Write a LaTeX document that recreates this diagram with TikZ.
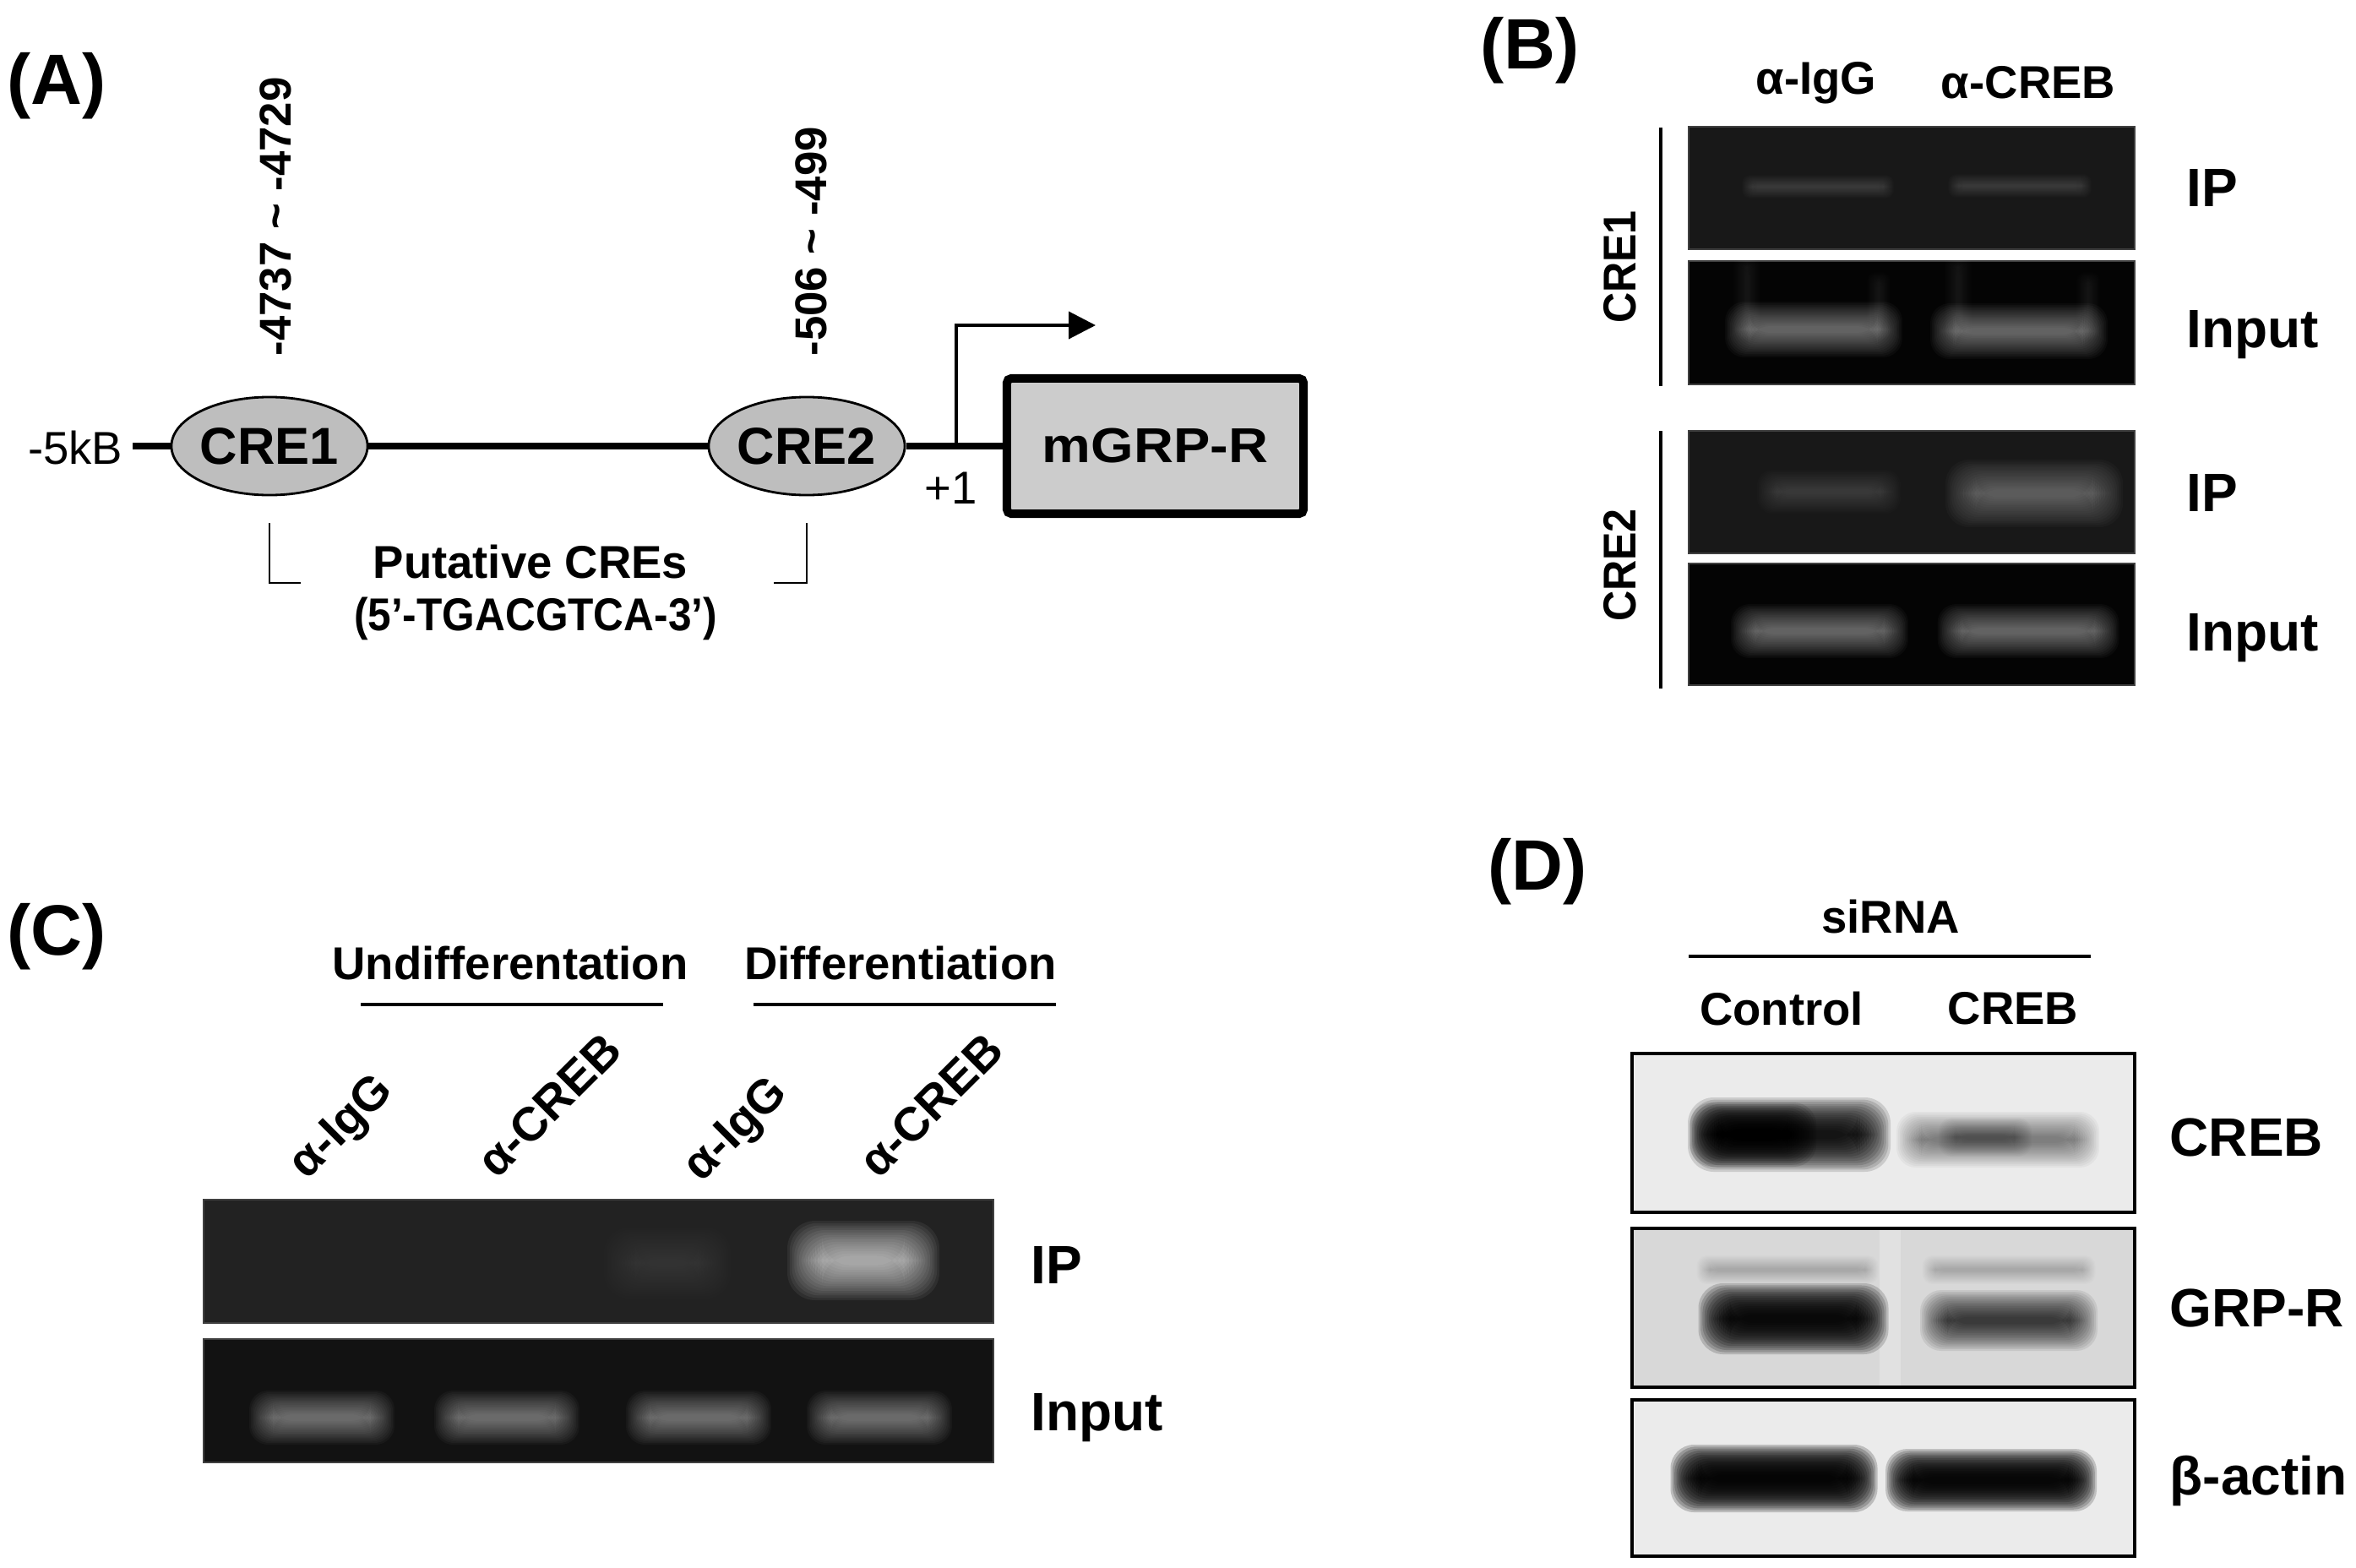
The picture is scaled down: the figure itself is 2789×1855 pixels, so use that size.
\documentclass[tikz,border=0pt]{standalone}
\usepackage{fontspec}
\setmainfont{Liberation Sans}
\usepackage{graphicx}
\usetikzlibrary{arrows.meta,shapes.geometric}
\definecolor{creg}{HTML}{BEBEBE}
\definecolor{geneg}{HTML}{CCCCCC}
\definecolor{gelIP}{HTML}{181818}
\definecolor{gelIn}{HTML}{040404}
\definecolor{gelCIP}{HTML}{222222}
\definecolor{gelCIn}{HTML}{121212}
\definecolor{blotbg}{HTML}{EBEBEB}
\definecolor{blotbgB}{HTML}{D8D8D8}
% soft band: centre x, centre y, width, height, colour, centre opacity
\newcommand{\gelband}[6]{%
  \pgfmathsetmacro{\gbw}{#3/2}%
  \pgfmathsetmacro{\gbh}{#4/2}%
  \pgfmathsetmacro{\gbs}{min(#3,#4)/34}%
  \pgfmathsetmacro{\gbo}{1-(1-#6)^(0.0625)}%
  \pgfmathsetlengthmacro{\gbrc}{min(#3,#4)*0.0035cm}%
  \foreach \k in {0,...,15}{%
    \fill[#5, fill opacity=\gbo, rounded corners=\gbrc]
      ({#1-\gbw+\k*\gbs},{#2-\gbh+\k*\gbs}) rectangle ({#1+\gbw-\k*\gbs},{#2+\gbh-\k*\gbs});
  }}
\tikzset{
  panel/.style={font=\bfseries\fontsize{24}{28}\selectfont, inner sep=0, anchor=west},
  lanelbl/.style={font=\bfseries\fontsize{15.5}{18}\selectfont, inner sep=0},
  rotlbl/.style={font=\bfseries\fontsize{16}{19}\selectfont, inner sep=0, rotate=45},
  sidelbl/.style={font=\bfseries\fontsize{18.2}{22}\selectfont, inner sep=0, anchor=base west},
  numlbl/.style={font=\bfseries\fontsize{15}{18}\selectfont, inner sep=0, rotate=90, anchor=west},
  plainlbl/.style={font=\fontsize{15.5}{18}\selectfont, inner sep=0},
  crenode/.style={ellipse, draw, line width=0.8pt, fill=creg, minimum width=2.26cm,
    minimum height=1.16cm, inner sep=0, font=\bfseries\fontsize{17.5}{20}\selectfont},
  genebox/.style={draw, line width=2.85pt, fill=geneg, minimum width=3.51cm,
    minimum height=1.6cm, inner sep=0, rounded corners=1.5pt,
    font=\bfseries\fontsize{16.5}{19}\selectfont},
  dna/.style={line width=2pt},
  prom/.style={line width=1.15pt, -{Triangle[length=0.32cm,width=0.32cm]}},
  thinline/.style={line width=0.7pt},
  rule/.style={line width=1.1pt},
  gelbox/.style={draw=black!75, line width=0.8pt},
  blotbox/.style={draw=black, line width=1pt},
}
\begin{document}
\begin{tikzpicture}[x=0.01cm, y=-0.01cm]
\useasboundingbox (0,0) rectangle (2789,1855);

% ---------------- Panel A ----------------
\node[panel] (labA) at (8,102) {(A)};
\coordinate (lstart) at (157,528);
\node[crenode] (cre1) at (319,528) {CRE1};
\node[crenode] (cre2) at (955,528) {CRE2};
\node[genebox] (gene) at (1367.5,528) {\scalebox{1.12}[1]{mGRP-R}};
\draw[dna] (lstart) -- (cre1.west);
\draw[dna] (cre1.east) -- (cre2.west);
\draw[dna] (cre2.east) -- (gene.west);
\coordinate (tss) at (1132,528);
\coordinate (tssend) at (1297,385);
\draw[prom] (tss) |- (tssend);
\node[plainlbl, anchor=east] (kb) at (146,530) {-5kB};
\node[plainlbl] (plus1) at (1126,578) {+1};
\node[numlbl] (pos1) at (326,422) {-4737 \textasciitilde{} -4729};
\node[numlbl] (pos2) at (960,422) {-506 \textasciitilde{} -499};
\draw[thinline] (319,619) |- (356,690);
\draw[thinline] (955,619) |- (916,690);
\node[lanelbl] (put) at (628,665) {Putative CREs};
\node[lanelbl] (seq) at (634,732) {\scalebox{0.91}[1]{(5’-TGACGTCA-3’)}};

% ---------------- Panel B ----------------
\node[panel] (labB) at (1752,60) {(B)};
\node[lanelbl] (bIgG) at (2150,98) {α-IgG};
\node[lanelbl] (bCREB) at (2401,98) {α-CREB};
\draw[thinline, line width=0.9pt] (1966,151) -- (1966,457);
\draw[thinline, line width=0.9pt] (1966,510) -- (1966,815);
\node[lanelbl, rotate=90] (bcre1) at (1918,316) {\scalebox{0.92}[1]{CRE1}};
\node[lanelbl, rotate=90] (bcre2) at (1918,669) {\scalebox{0.92}[1]{CRE2}};
% CRE1 IP
\filldraw[gelbox, fill=gelIP] (1999,150) rectangle (2527,295);
\gelband{2152}{221}{180}{28}{white}{0.15}
\gelband{2391}{220}{170}{28}{white}{0.18}
% CRE1 input
\filldraw[gelbox, fill=gelIn] (1999,309) rectangle (2527,455);
\gelband{2068}{352}{32}{100}{white}{0.14}
\gelband{2318}{352}{32}{100}{white}{0.14}
\gelband{2224}{362}{28}{80}{white}{0.10}
\gelband{2472}{362}{28}{80}{white}{0.10}
\gelband{2147}{390}{210}{66}{white}{0.40}
\gelband{2390}{392}{210}{66}{white}{0.40}
% CRE2 IP
\filldraw[gelbox, fill=gelIP] (1999,510) rectangle (2527,655);
\gelband{2165}{582}{170}{52}{white}{0.20}
\gelband{2408}{584}{210}{80}{white}{0.32}
% CRE2 input
\filldraw[gelbox, fill=gelIn] (1999,667) rectangle (2527,811);
\gelband{2154}{747}{210}{64}{white}{0.40}
\gelband{2401}{747}{215}{64}{white}{0.40}
\node[sidelbl] (bIP1) at (2588,245) {IP};
\node[sidelbl] (bIn1) at (2588,411) {Input};
\node[sidelbl] (bIP2) at (2588,605) {IP};
\node[sidelbl] (bIn2) at (2588,770) {Input};

% ---------------- Panel C ----------------
\node[panel] (labC) at (8,1109) {(C)};
\node[lanelbl] (undiff) at (604,1140) {Undifferentation};
\node[lanelbl] (diff) at (1066,1140) {Differentiation};
\draw[rule] (427,1189) -- (785,1189);
\draw[rule] (892,1189) -- (1250,1189);
\node[rotlbl] (c1) at (406,1336) {α-IgG};
\node[rotlbl] (c2) at (650,1308) {α-CREB};
\node[rotlbl] (c3) at (873,1339) {α-IgG};
\node[rotlbl] (c4) at (1102,1308) {α-CREB};
% IP gel
\filldraw[gelbox, fill=gelCIP] (241,1420) rectangle (1176,1566);
\gelband{381}{1500}{150}{64}{white}{0.04}
\gelband{600}{1500}{150}{64}{white}{0.04}
\gelband{790}{1495}{150}{84}{white}{0.14}
\gelband{1022}{1492}{180}{94}{white}{0.62}
% Input gel
\filldraw[gelbox, fill=gelCIn] (241,1585) rectangle (1176,1731);
\foreach \cx in {381,600,827,1041}{
  \gelband{\cx}{1648}{165}{84}{white}{0.09}
  \gelband{\cx}{1678}{172}{64}{white}{0.42}
}
\node[sidelbl] (cIP) at (1220,1519) {IP};
\node[sidelbl] (cIn) at (1220,1693) {Input};

% ---------------- Panel D ----------------
\node[panel] (labD) at (1761,1032) {(D)};
\node[lanelbl] (sirna) at (2238,1085) {siRNA};
\draw[rule, line width=1pt] (1999,1132) -- (2475,1132);
\node[lanelbl] (ctrl) at (2109,1194) {Control};
\node[lanelbl] (dcreb) at (2383,1194) {CREB};
% CREB blot
\filldraw[blotbox, fill=blotbg] (1932,1247) rectangle (2527,1435);
\gelband{2118}{1343}{240}{88}{black}{0.9}
\gelband{2075}{1343}{150}{76}{black}{0.85}
\gelband{2365}{1349}{240}{66}{black}{0.45}
\gelband{2350}{1346}{110}{46}{black}{0.3}
% GRP-R blot
\filldraw[blotbox, fill=blotbgB] (1932,1454) rectangle (2527,1642);
\fill[white, fill opacity=0.25] (2225,1456) rectangle (2250,1640);
\gelband{2116}{1503}{215}{34}{black}{0.15}
\gelband{2378}{1503}{205}{34}{black}{0.15}
\gelband{2123}{1561}{225}{84}{black}{0.95}
\gelband{2378}{1563}{210}{72}{black}{0.72}
% beta-actin blot
\filldraw[blotbox, fill=blotbg] (1932,1657) rectangle (2527,1842);
\gelband{2100}{1750}{245}{80}{black}{0.97}
\gelband{2357}{1752}{250}{74}{black}{0.96}
\node[sidelbl] (dCREB) at (2568,1368) {CREB};
\node[sidelbl] (dGRP) at (2568,1570) {GRP-R};
\node[sidelbl] (dact) at (2568,1769) {β-actin};
\end{tikzpicture}
\end{document}
